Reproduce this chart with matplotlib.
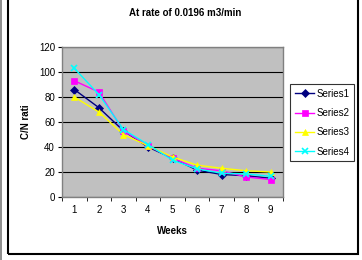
import numpy as np
import matplotlib
matplotlib.use('Agg')
import matplotlib.pyplot as plt
from matplotlib.patches import Rectangle

plt.rcParams['font.family'] = ['Liberation Sans', 'DejaVu Sans']

weeks = [1, 2, 3, 4, 5, 6, 7, 8, 9]
series1 = [86, 71.5, 53, 40, 31, 21.5, 18, 17, 15]
series2 = [93, 84, 53, 41, 31, 23, 21, 16, 14]
series3 = [80, 68, 50, 41, 32, 25.5, 23, 21, 20]
series4 = [103, 82, 54, 42, 29.5, 22.5, 19, 18.5, 16.5]
names = ['Series1', 'Series2', 'Series3', 'Series4']
colors = ['#000080', '#ff00ff', '#ffff00', '#00ffff']
markers = ['D', 's', '^', 'x']

W, H = 362, 260
fig = plt.figure(figsize=(W / 100, H / 100), dpi=100)
ax = fig.add_axes([62 / W, 1 - 197 / H, 221 / W, 150 / H])
ax.set_facecolor('#c0c0c0')

for vals, name, c, m in zip([series1, series2, series3, series4], names, colors, markers):
    ms = 4 if m == 'D' else 4.5
    ax.plot(weeks, vals, color=c, marker=m, markersize=ms, linewidth=1,
            markeredgewidth=1.2 if m == 'x' else 0.5, label=name)

ax.set_xlim(0.5, 9.5)
ax.set_ylim(0, 120)
ax.set_yticks(range(0, 121, 20))
ax.set_xticks(weeks)
ax.set_xticks(np.arange(0.5, 9.6, 1), minor=True)
ax.tick_params(axis='x', which='major', length=0, labelsize=7, pad=6)
ax.tick_params(axis='x', which='minor', length=3, direction='out')
ax.tick_params(axis='y', length=3, labelsize=7, pad=2)
ax.grid(axis='y', color='black', linewidth=0.8)
ax.set_axisbelow(True)
for s in ['top', 'right', 'left', 'bottom']:
    ax.spines[s].set_color('#808080')
    ax.spines[s].set_linewidth(1)

ax.set_xlabel('Weeks', fontsize=7, fontweight='bold', labelpad=8)
ax.set_ylabel('C/N rati', fontsize=7, fontweight='bold', labelpad=6)
fig.text(185 / W, 1 - 13 / H, 'At rate of 0.0196 m3/min', fontsize=7,
         fontweight='bold', ha='center', va='center')

# legend box sits to the right of the plot area
leg = ax.legend(loc='upper left', bbox_to_anchor=(290 / W, 1 - 84 / H),
                bbox_transform=fig.transFigure, fontsize=7, frameon=True,
                fancybox=False, edgecolor='black', handlelength=2.0,
                borderpad=0.5, labelspacing=0.95, handletextpad=0.2,
                borderaxespad=0)
leg.get_frame().set_linewidth(0.8)

# outer chart frame (top edge runs off the image) and grey strip at left
fig.patches.append(Rectangle((8 / W, 1 - 254 / H), 350 / W, 270 / H,
                             transform=fig.transFigure, fill=False,
                             edgecolor='black', linewidth=1.5))
fig.patches.append(Rectangle((0, 0), 2 / W, 1, transform=fig.transFigure,
                             facecolor='#909090', edgecolor='none'))

fig.savefig('out.png', dpi=100)
